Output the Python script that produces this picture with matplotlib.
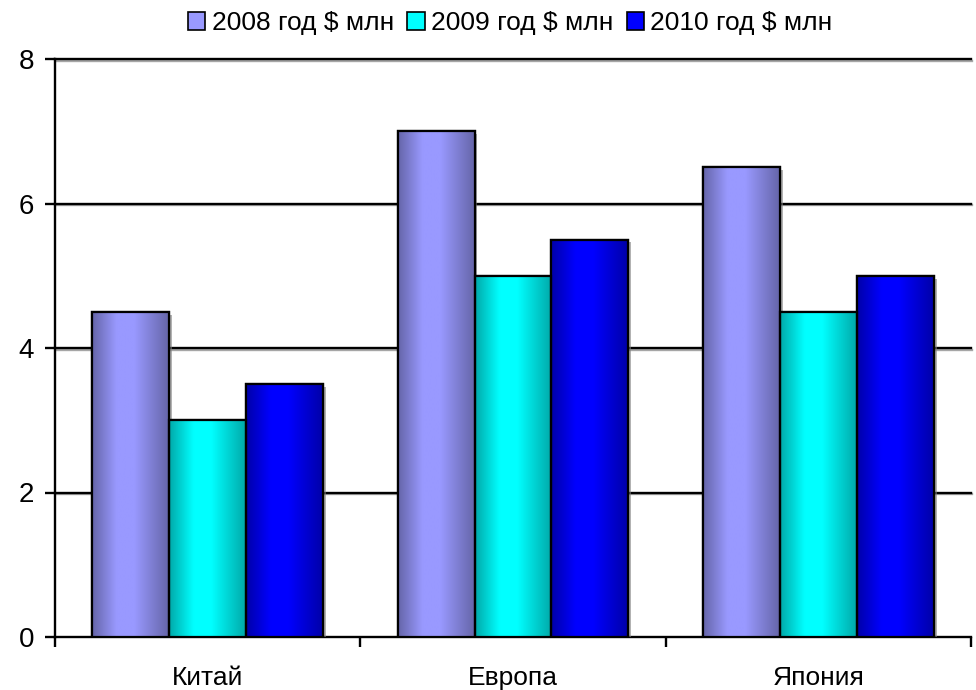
import numpy as np
import matplotlib
matplotlib.use("Agg")
import matplotlib.pyplot as plt
from matplotlib.colors import LinearSegmentedColormap, to_rgb
from matplotlib.patches import Rectangle
import matplotlib.patheffects as pe

categories = ["Китай", "Европа", "Япония"]
series_names = ["2008 год $ млн", "2009 год $ млн", "2010 год $ млн"]
values_2008 = [4.5, 7.0, 6.5]
values_2009 = [3.0, 5.0, 4.5]
values_2010 = [3.5, 5.5, 5.0]
series_values = [values_2008, values_2009, values_2010]
series_colors = ["#9999FF", "#00FFFF", "#0000FF"]
yticks = [0, 2, 4, 6, 8]

plt.rcParams['font.family'] = ['Liberation Sans', 'DejaVu Sans']

fig = plt.figure(figsize=(9.76, 6.90), dpi=100)
ax = fig.add_axes([55/976, 1-637/690, (971-55)/976, (637-59)/690])

ax.set_xlim(0, 3)
ax.set_ylim(0, 8)

# gridlines with shadow
for y in yticks[1:]:
    ax.axhline(y, color="black", lw=1.7, zorder=1,
               path_effects=[pe.SimpleLineShadow(offset=(0.8, -1.2), shadow_color="gray", alpha=0.7), pe.Normal()],
               clip_on=False)

bw = 0.252
grad = np.linspace(0, 1, 256).reshape(1, -1)
for si, (vals, col) in enumerate(zip(series_values, series_colors)):
    base = np.array(to_rgb(col))
    dark = base * 0.66
    cmap = LinearSegmentedColormap.from_list(
        f"g{si}", [(0.0, dark), (0.32, base), (0.55, base), (1.0, dark)])
    for ci, v in enumerate(vals):
        x0 = ci + 0.5 + (si - 1) * bw - bw / 2
        rect = Rectangle((x0, 0), bw, v, facecolor=col, edgecolor="black", lw=1.6, zorder=3,
                         path_effects=[pe.withSimplePatchShadow(offset=(2, -2), shadow_rgbFace="gray", alpha=0.6)])
        ax.add_patch(rect)
        im = ax.imshow(grad, extent=(x0, x0 + bw, 0, v), aspect="auto", cmap=cmap,
                       zorder=3.5, interpolation="bilinear")
        im.set_clip_path(rect)
        edge = Rectangle((x0, 0), bw, v, facecolor="none", edgecolor="black", lw=1.6, zorder=4)
        ax.add_patch(edge)

ax.set_xlim(0, 3)
ax.set_ylim(0, 8)

for s in ["top", "right"]:
    ax.spines[s].set_visible(False)
ax.spines["left"].set_linewidth(1.7)
ax.spines["bottom"].set_linewidth(1.7)

ax.set_yticks(yticks)
ax.set_yticklabels([str(t) for t in yticks])
ax.tick_params(axis="y", direction="out", length=7, width=1.7, pad=8, labelsize=20)

ax.set_xticks([0, 1, 2, 3])
ax.set_xticklabels([])
ax.set_xticks([0.5, 1.5, 2.5], minor=True)
ax.set_xticklabels(categories, minor=True)
ax.tick_params(axis="x", which="major", direction="out", length=7, width=1.7)
ax.tick_params(axis="x", which="minor", length=0, pad=21, labelsize=19)

handles = []
for si, c in enumerate(series_colors):
    handles.append(Rectangle((0, 0), 1, 1, facecolor=c, edgecolor="black", lw=1.2))
fig.legend(handles, series_names, loc="center", bbox_to_anchor=(0.523, 1 - 23/690), ncol=3,
           frameon=False, fontsize=19, handlelength=0.65, handleheight=0.65,
           handletextpad=0.25, columnspacing=0.5)

fig.savefig("out.png", dpi=100)
